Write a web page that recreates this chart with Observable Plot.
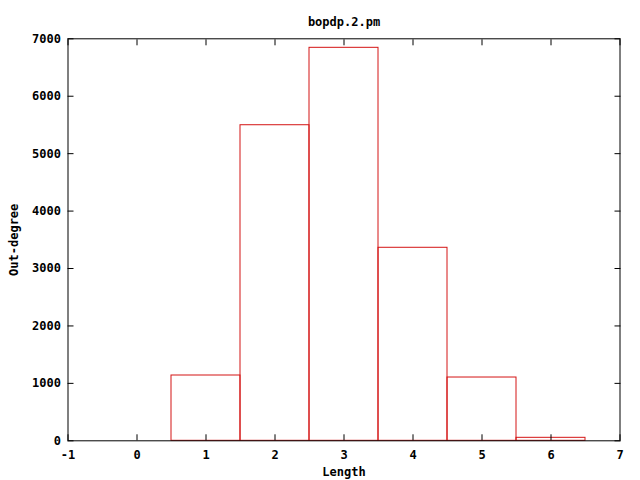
<!DOCTYPE html>
<html><head><meta charset="utf-8">
<script src="https://cdn.jsdelivr.net/npm/d3@7"></script>
<script src="https://cdn.jsdelivr.net/npm/@observablehq/plot@0.6"></script>
<style>body{margin:0;background:#fff}</style>
</head><body><div id="chart"></div>
<script>
const lengths = [1, 2, 3, 4, 5, 6];
const outDegree = [1137, 5495, 6843, 3361, 1102, 52];
const xTicks = [-1, 0, 1, 2, 3, 4, 5, 6, 7];
const yTicks = [0, 1000, 2000, 3000, 4000, 5000, 6000, 7000];
const title = "bopdp.2.pm";

const data = lengths.map((l, i) => ({x1: l - 0.5, x2: l + 0.5, y: outDegree[i]}));
const font = "DejaVu Sans Mono, monospace";
const blank = () => "";

const chart = Plot.plot({
  width: 640, height: 480,
  marginLeft: 67.5, marginRight: 20.5, marginTop: 38.3, marginBottom: 39.7,
  style: {fontFamily: font, fontSize: "12px", fontWeight: "bold", color: "black", background: "white"},
  x: {domain: [-1, 7]},
  y: {domain: [0, 7000]},
  marks: [
    Plot.rectY(data, {x1: "x1", x2: "x2", y: "y", fill: "none", stroke: "#d41414", strokeWidth: 1}),
    Plot.axisX({ticks: xTicks, tickSize: 0, tickPadding: 10, tickFormat: d => String(d), label: "Length", labelAnchor: "center", labelArrow: "none", labelOffset: 35}),
    Plot.axisX({ticks: xTicks, tickSize: -6, tickFormat: blank, label: null}),
    Plot.axisX({anchor: "top", ticks: xTicks, tickSize: -6, tickFormat: blank, label: null}),
    Plot.axisY({ticks: yTicks, tickSize: 0, tickPadding: 7, tickFormat: d => String(d), label: "Out-degree", labelAnchor: "center", labelArrow: "none", labelOffset: 59}),
    Plot.axisY({ticks: yTicks, tickSize: -6, tickFormat: blank, label: null}),
    Plot.axisY({anchor: "right", ticks: yTicks, tickSize: -6, tickFormat: blank, label: null}),
    Plot.frame({stroke: "black"}),
    Plot.text([title], {text: d => d, frameAnchor: "top", dy: -21, fontSize: 12, fontWeight: "bold"})
  ]
});
document.getElementById("chart").appendChild(chart);
</script></body></html>
